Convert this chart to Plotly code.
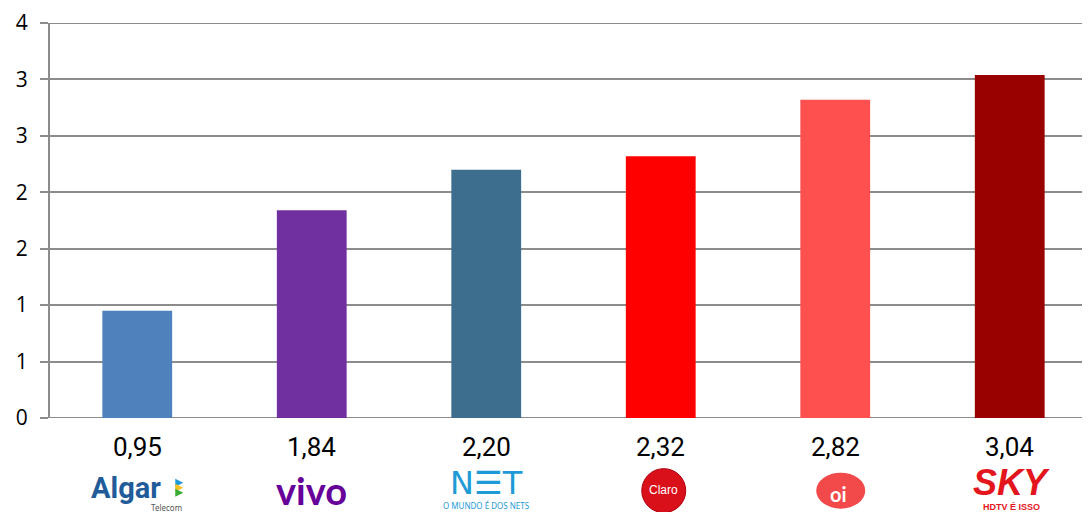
import plotly.graph_objects as go

companies = ["Algar", "Vivo", "NET", "Claro", "Oi", "SKY"]
values = [0.95, 1.84, 2.20, 2.32, 2.82, 3.04]
value_labels = ["0,95", "1,84", "2,20", "2,32", "2,82", "3,04"]
bar_colors = ["#4F81BD", "#7030A0", "#3E6E8E", "#FF0000", "#FF5050", "#990000"]
y_tickvals = [0, 0.5, 1, 1.5, 2, 2.5, 3, 3.5]
y_ticktext = ["0", "1", "1", "2", "2", "3", "3", "4"]

OFF = 8  # default page body margin
W, H = 1090 - OFF, 512 - OFF
PLOT_TOP, PLOT_BOTTOM = 21 - OFF, 418 - OFF

def py(p):
    """page pixel y -> paper y"""
    return (PLOT_BOTTOM - (p - OFF)) / (PLOT_BOTTOM - PLOT_TOP)

fig = go.Figure(go.Bar(
    x=list(range(len(companies))), y=values, marker_color=bar_colors,
    marker_line_width=0, width=0.4,
))

ann = []
shapes = []
# edge gridlines (bottom and top of the value range)
for yv in (y_tickvals[0], y_tickvals[-1]):
    shapes.append(dict(type="line", xref="paper", yref="y", x0=0, x1=1, y0=yv, y1=yv,
                       line=dict(color="#8C8C8C", width=2), layer="below"))

num_font = dict(family="Liberation Sans Narrow, Roboto, Noto Sans", size=26, color="#000000")
for i, lab in enumerate(value_labels):
    ann.append(dict(x=i, y=py(447), xref="x", yref="paper", text=lab, showarrow=False,
                    font=num_font, xanchor="center", yanchor="middle"))

# Algar
ann.append(dict(x=0, y=py(488), xref="x", yref="paper", xshift=-11, text="<b>Algar</b>", showarrow=False,
                font=dict(family="Roboto, Noto Sans", size=29, color="#1F5C99"), yanchor="middle"))
for (y0, y1), c in [((13, 5), "#1E9AD6"), ((8, 0), "#F5C223"), ((3, -5), "#3BAA35")]:
    ym = (y0 + y1) / 2
    shapes.append(dict(type="path", xref="x", yref="paper", xsizemode="pixel", ysizemode="pixel",
                       xanchor=0, yanchor=py(492),
                       path=f"M 38,{y0} L 46,{ym} L 38,{y1} Z",
                       fillcolor=c, line=dict(width=0)))
ann.append(dict(x=0, y=py(508), xref="x", yref="paper", xshift=29, text="Telecom", showarrow=False,
                font=dict(family="Noto Sans", size=8, color="#555555"), yanchor="middle"))
# vivo
ann.append(dict(x=1, y=py(490), xref="x", yref="paper", text="<b>vivo</b>", showarrow=False,
                font=dict(family="Lato, Noto Sans", size=38, color="#660099"), yanchor="middle"))
# NET
ann.append(dict(x=2, y=py(483), xref="x", yref="paper", text="N☰T", showarrow=False,
                font=dict(family="DejaVu Sans", size=32, color="#1E9AD6"), yanchor="middle"))
ann.append(dict(x=2, y=py(506), xref="x", yref="paper", text="O MUNDO É DOS NETS", showarrow=False,
                font=dict(family="Noto Sans", size=8, color="#1E9AD6"), yanchor="middle"))
# Claro
shapes.append(dict(type="circle", xref="x", yref="paper", xsizemode="pixel", ysizemode="pixel",
                   xanchor=3, yanchor=py(491), x0=-19, x1=25, y0=-22, y1=22,
                   fillcolor="#D90F1A", line=dict(color="#B00010", width=1)))
ann.append(dict(x=3, y=py(490), xref="x", yref="paper", xshift=3, text="Claro", showarrow=False,
                font=dict(family="Liberation Sans", size=12, color="#FFFFFF"), yanchor="middle"))
# Oi
shapes.append(dict(type="circle", xref="x", yref="paper", xsizemode="pixel", ysizemode="pixel",
                   xanchor=4, yanchor=py(491), x0=-19, x1=30, y0=-18, y1=18,
                   fillcolor="#F24A4A", line=dict(width=0)))
ann.append(dict(x=4, y=py(494), xref="x", yref="paper", xshift=3, text="<b>oi</b>", showarrow=False,
                font=dict(family="Lato, Noto Sans", size=20, color="#FFFFFF"), yanchor="middle"))
# SKY
ann.append(dict(x=5, y=py(483), xref="x", yref="paper", xshift=2, text="<b><i>SKY</i></b>", showarrow=False,
                font=dict(family="Liberation Sans", size=36, color="#E3161E"), yanchor="middle"))
ann.append(dict(x=5, y=py(507), xref="x", yref="paper", xshift=2, text="<b>HDTV É ISSO</b>", showarrow=False,
                font=dict(family="Liberation Sans", size=9, color="#E3161E"), yanchor="middle"))

fig.update_layout(
    width=W, height=H,
    margin=dict(l=50 - OFF, r=0, t=PLOT_TOP, b=H - PLOT_BOTTOM),
    plot_bgcolor="#FFFFFF", paper_bgcolor="#FFFFFF",
    showlegend=False, annotations=ann, shapes=shapes,
    xaxis=dict(range=[-0.5, 5.46], showticklabels=False, showgrid=False, zeroline=False,
               showline=False, ticks=""),
    yaxis=dict(range=[0, 3.5], tickvals=y_tickvals, ticktext=y_ticktext,
               showgrid=True, gridcolor="#8C8C8C", gridwidth=2, zeroline=False,
               showline=True, linecolor="#8C8C8C", linewidth=2,
               ticks="outside", ticklen=8, tickcolor="#8C8C8C", tickwidth=2,
               ticklabelstandoff=8, ticklabeloverflow="allow",
               tickfont=dict(family="Open Sans, Noto Sans", size=21, color="#000000")),
)

fig.write_html("out.html")
